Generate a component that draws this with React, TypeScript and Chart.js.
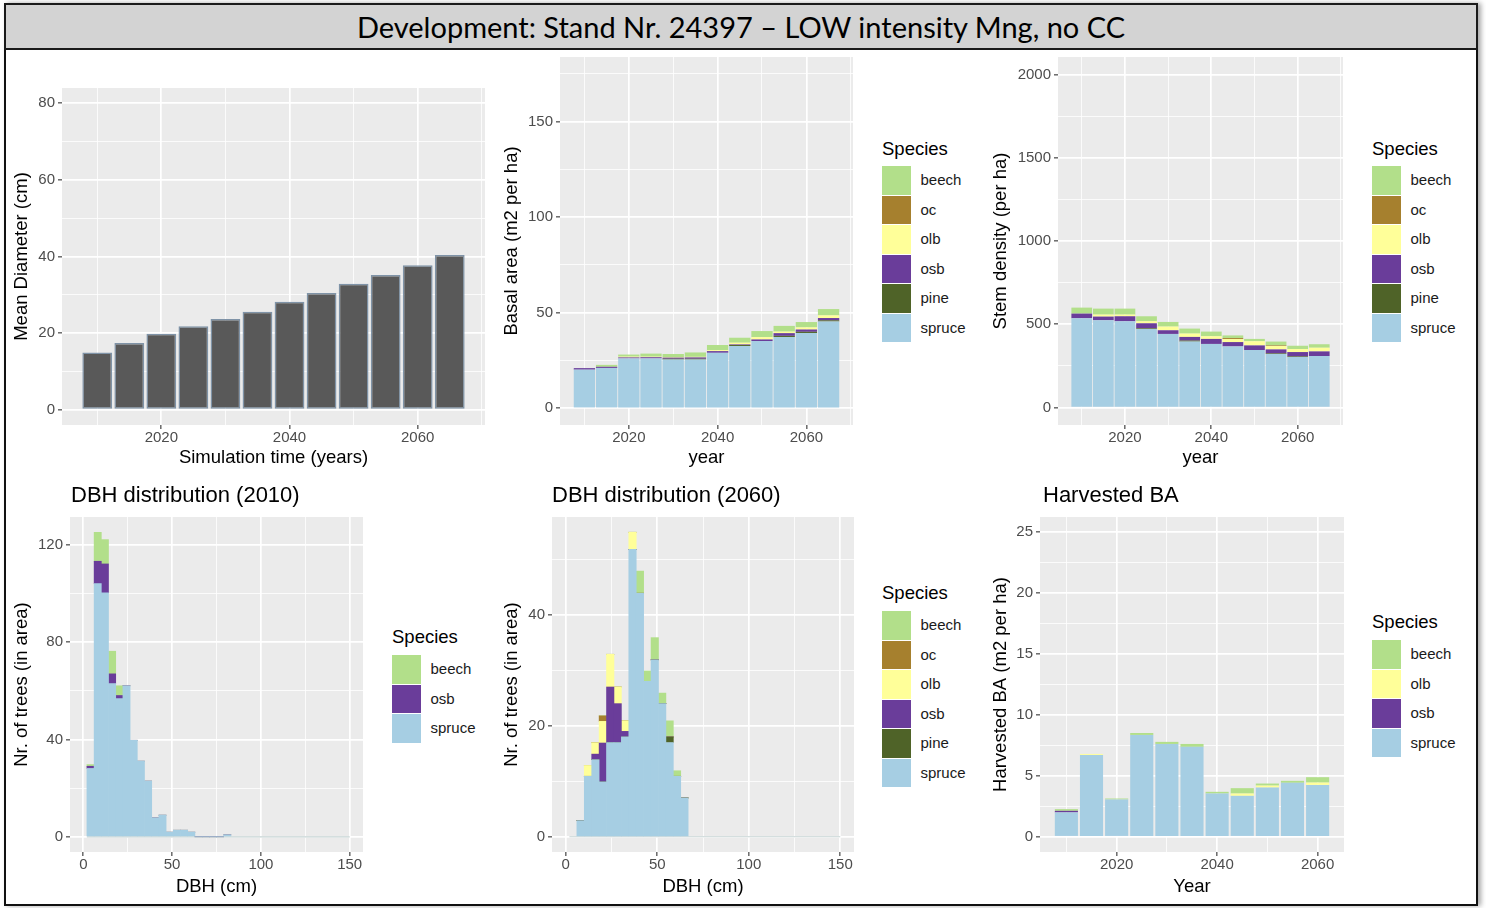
import React, { useEffect, useRef } from "react";
import { Chart, registerables } from "chart.js";

Chart.register(...registerables);

const FONT = "'Liberation Sans', Arial, Helvetica, sans-serif";

// ---------- colours ----------
const COL_BEECH = "#b2df8a";
const COL_OC = "#a6802e";
const COL_OLB = "#ffff99";
const COL_OSB = "#6a3d9a";
const COL_PINE = "#4f6328";
const COL_SPRUCE = "#a6cee3";

// ---------- data ----------
const years = [2010, 2015, 2020, 2025, 2030, 2035, 2040, 2045, 2050, 2055, 2060, 2065];
const meanDiameter = [14.9, 17.4, 19.8, 21.8, 23.7, 25.6, 28.2, 30.5, 32.9, 35.2, 37.7, 40.4];

// basal area (m2 per ha)
const baSpruce = [20.2, 21.1, 26.1, 26.1, 25.5, 25.5, 29.0, 32.6, 35.2, 37.3, 39.4, 45.4];
const baPine = [0, 0, 0, 0, 0.4, 0.4, 0, 0.5, 0, 0.6, 0.6, 0.6];
const baOsb = [0.8, 0.6, 0.5, 0.6, 0.6, 0.7, 0.9, 0.3, 0.8, 1.4, 1.2, 1.2];
const baOlb = [0, 0, 0.4, 0.3, 0.3, 0.3, 0.5, 0.9, 1.2, 0.8, 1.1, 1.4];
const baOc = [0, 0, 0, 0, 0, 0, 0, 0, 0, 0, 0, 0];
const baBeech = [0, 1.0, 1.1, 1.6, 1.6, 2.3, 2.7, 2.6, 3.2, 3.0, 2.8, 3.3];

// stem density (per ha)
const sdSpruce = [536, 524, 518, 472, 442, 396, 382, 367, 345, 321, 303, 309];
const sdPine = [0, 0, 0, 4, 0, 6, 0, 0, 0, 4, 4, 0];
const sdOsb = [28, 22, 30, 30, 22, 22, 30, 26, 28, 24, 26, 28];
const sdOlb = [0, 12, 10, 12, 22, 20, 16, 18, 25, 20, 18, 22];
const sdOc = [0, 0, 0, 0, 0, 0, 0, 6, 0, 4, 0, 0];
const sdBeech = [36, 36, 36, 30, 28, 30, 28, 16, 14, 23, 20, 21];

// DBH distribution 2010 (bin mid points, cm)
const dbh2010Mid = [4.05, 8.11, 12.16, 16.22, 20.27, 24.32, 28.38, 32.43, 36.49, 40.54, 44.59, 48.65, 52.7, 56.76, 60.81, 64.86, 68.92, 72.97, 77.03, 81.08];
const dbh2010Spruce = [28.1, 104.1, 100.3, 63.0, 56.8, 62.1, 39.7, 31.1, 22.9, 7.8, 8.9, 1.9, 2.7, 2.7, 1.9, 0, 0, 0, 0, 0.8];
const dbh2010Osb = [0.9, 9.2, 11.9, 4.0, 1.3, 0, 0, 0, 0, 0, 0, 0, 0, 0, 0, 0, 0, 0, 0, 0];
const dbh2010Beech = [0.7, 11.9, 10.0, 9.3, 4.0, 0, 0, 0, 0, 0, 0, 0, 0, 0, 0, 0, 0, 0, 0, 0];

// DBH distribution 2060
const dbh2060Mid = [8.11, 12.16, 16.22, 20.27, 24.32, 28.38, 32.43, 36.49, 40.54, 44.59, 48.65, 52.7, 56.76, 60.81, 64.86];
const dbh2060Spruce = [2.9, 10.9, 13.9, 9.9, 17.0, 17.0, 18.0, 51.8, 43.9, 28.0, 31.9, 24.0, 17.0, 10.9, 7.0];
const dbh2060Pine = [0, 0, 0, 0, 0, 0, 0, 0, 0, 0, 0, 0, 1.0, 0, 0];
const dbh2060Osb = [0, 0, 1.0, 7.0, 10.0, 7.0, 1.0, 0, 0, 0, 0, 0, 0, 0, 0];
const dbh2060Olb = [0, 1.95, 2.05, 3.9, 5.9, 3.0, 1.9, 3.1, 0, 0, 0, 0, 0, 0, 0];
const dbh2060Oc = [0, 0, 0, 1.0, 0, 0, 0, 0, 0, 0, 0, 0, 0, 0, 0];
const dbh2060Beech = [0, 0, 0, 0, 0, 0, 0, 0, 4.0, 1.9, 4.0, 1.9, 2.9, 1.0, 0];
const dbhZeroLine = [2, 150];

// harvested BA
const harvestYears = [2010, 2015, 2020, 2025, 2030, 2035, 2040, 2045, 2050, 2055, 2060];
const hvSpruce = [2.0, 6.72, 3.06, 8.36, 7.62, 7.38, 3.55, 3.36, 4.04, 4.43, 4.26];
const hvOsb = [0.13, 0, 0, 0, 0, 0, 0, 0, 0, 0, 0];
const hvOlb = [0, 0.08, 0, 0, 0, 0, 0, 0.19, 0.16, 0, 0.19];
const hvBeech = [0.14, 0, 0.08, 0.16, 0.17, 0.24, 0.14, 0.44, 0.17, 0.16, 0.44];

const legendAll = ["beech", "oc", "olb", "osb", "pine", "spruce"];
const legendColors: Record<string, string> = {
  beech: COL_BEECH,
  oc: COL_OC,
  olb: COL_OLB,
  osb: COL_OSB,
  pine: COL_PINE,
  spruce: COL_SPRUCE,
};

// ---------- helpers ----------
const bgPlugin = {
  id: "panelBg",
  beforeDraw(chart: any) {
    const { ctx, chartArea: a } = chart;
    if (!a) return;
    ctx.save();
    ctx.fillStyle = "#EBEBEB";
    ctx.fillRect(a.left, a.top, a.right - a.left, a.bottom - a.top);
    ctx.restore();
  },
};

function axisCfg(
  kind: "x" | "y",
  min: number,
  max: number,
  majors: number[],
  minors: number[],
  title: string,
  size: number
) {
  const all = [...majors, ...minors].sort((a, b) => a - b);
  const isMajor = (v: number) => majors.some((m) => Math.abs(m - v) < 1e-9);
  return {
    type: "linear",
    min,
    max,
    stacked: true,
    offset: false,
    afterBuildTicks: (axis: any) => {
      axis.ticks = all.map((v) => ({ value: v }));
    },
    afterFit: (axis: any) => {
      if (kind === "y") axis.width = size;
      else axis.height = size;
    },
    grid: {
      offset: false,
      color: "#ffffff",
      lineWidth: (c: any) => (c.tick && isMajor(c.tick.value) ? 1.7 : 0.8),
      drawTicks: true,
      tickLength: 4,
      tickWidth: 1.1,
      tickColor: (c: any) => (c.tick && isMajor(c.tick.value) ? "#333333" : "rgba(0,0,0,0)"),
    },
    border: { display: false },
    ticks: {
      autoSkip: false,
      maxRotation: 0,
      minRotation: 0,
      padding: kind === "x" ? 0 : 3,
      color: "#4d4d4d",
      font: { family: FONT, size: 15 },
      callback: (v: any) => (isMajor(Number(v)) ? String(v) : ""),
    },
    title: {
      display: true,
      text: title,
      color: "#000000",
      font: { family: FONT, size: 18.5 },
      padding: 0,
    },
  };
}

type Geom = { l: number; t: number; r: number; b: number; yTitleX: number; xTitleY: number };

function bars(xs: number[], ys: number[], color: string, pct: number, extra: any = {}) {
  return {
    type: "bar",
    data: xs.map((x, i) => ({ x, y: ys[i] })),
    backgroundColor: color,
    borderWidth: 0,
    barPercentage: pct,
    categoryPercentage: 1,
    ...extra,
  };
}

function Panel({
  g,
  datasets,
  xAxis,
  yAxis,
}: {
  g: Geom;
  datasets: any[];
  xAxis: [number, number, number[], number[], string];
  yAxis: [number, number, number[], number[], string];
}) {
  const ref = useRef<HTMLCanvasElement>(null);
  const padTop = 14;
  const padRight = 10;
  const cLeft = Math.round(g.yTitleX - 11);
  const cTop = g.t - padTop;
  const cW = g.r + padRight - cLeft;
  const cBottom = Math.round(g.xTitleY + 11);
  const cH = cBottom - cTop;
  const yW = g.l - cLeft;
  const xH = cBottom - g.b;

  useEffect(() => {
    const chart = new Chart(ref.current as HTMLCanvasElement, {
      type: "bar",
      data: { datasets } as any,
      options: {
        responsive: false,
        animation: false,
        maintainAspectRatio: false,
        layout: { padding: { left: 0, top: padTop, right: padRight, bottom: 0 } },
        plugins: { legend: { display: false }, tooltip: { enabled: false } },
        scales: {
          x: axisCfg("x", xAxis[0], xAxis[1], xAxis[2], xAxis[3], xAxis[4], xH) as any,
          y: axisCfg("y", yAxis[0], yAxis[1], yAxis[2], yAxis[3], yAxis[4], yW) as any,
        },
      } as any,
      plugins: [bgPlugin],
    });
    return () => chart.destroy();
  }, []);

  return (
    <canvas
      ref={ref}
      width={cW}
      height={cH}
      style={{ position: "absolute", left: cLeft, top: cTop, width: cW, height: cH }}
    />
  );
}

function Legend({ x, titleY, keyTop, items }: { x: number; titleY: number; keyTop: number; items: string[] }) {
  return (
    <>
      <div
        style={{
          position: "absolute",
          left: x,
          top: titleY - 11,
          height: 22,
          lineHeight: "22px",
          fontFamily: FONT,
          fontSize: 18.5,
          color: "#000",
          whiteSpace: "nowrap",
        }}
      >
        Species
      </div>
      {items.map((it, i) => (
        <React.Fragment key={it}>
          <div
            style={{
              position: "absolute",
              left: x,
              top: keyTop + i * 29.5,
              width: 28.5,
              height: 28.5,
              background: legendColors[it],
            }}
          />
          <div
            style={{
              position: "absolute",
              left: x + 38.5,
              top: keyTop + i * 29.5 + 14.25 - 10,
              height: 20,
              lineHeight: "20px",
              fontFamily: FONT,
              fontSize: 15,
              color: "#1a1a1a",
              whiteSpace: "nowrap",
            }}
          >
            {it}
          </div>
        </React.Fragment>
      ))}
    </>
  );
}

function PanelTitle({ x, y, text }: { x: number; y: number; text: string }) {
  return (
    <div
      style={{
        position: "absolute",
        left: x,
        top: y - 13,
        height: 26,
        lineHeight: "26px",
        fontFamily: FONT,
        fontSize: 22,
        color: "#000",
        whiteSpace: "nowrap",
      }}
    >
      {text}
    </div>
  );
}

export default function App() {
  const yearMaj = [2020, 2040, 2060];
  const yearMin = [2010, 2030, 2050, 2070];
  const dbhMaj = [0, 50, 100, 150];
  const dbhMin = [25, 75, 125];

  const panel1 = [bars(years, meanDiameter, "#595959", 0.93, { borderColor: "#7f93a7", borderWidth: 1.5, borderSkipped: false })];

  const panel2 = [
    bars(years, baSpruce, COL_SPRUCE, 0.96),
    bars(years, baPine, COL_PINE, 0.96),
    bars(years, baOsb, COL_OSB, 0.96),
    bars(years, baOlb, COL_OLB, 0.96),
    bars(years, baOc, COL_OC, 0.96),
    bars(years, baBeech, COL_BEECH, 0.96),
  ];

  const panel3 = [
    bars(years, sdSpruce, COL_SPRUCE, 0.96),
    bars(years, sdPine, COL_PINE, 0.96),
    bars(years, sdOsb, COL_OSB, 0.96),
    bars(years, sdOlb, COL_OLB, 0.96),
    bars(years, sdOc, COL_OC, 0.96),
    bars(years, sdBeech, COL_BEECH, 0.96),
  ];

  const zeroLine = {
    type: "line",
    data: dbhZeroLine.map((x) => ({ x, y: 0 })),
    borderColor: "#c6d3d3",
    borderWidth: 1.2,
    pointRadius: 0,
    order: 10,
  };

  const panel4 = [
    zeroLine,
    bars(dbh2010Mid, dbh2010Spruce, COL_SPRUCE, 1),
    bars(dbh2010Mid, dbh2010Osb, COL_OSB, 1),
    bars(dbh2010Mid, dbh2010Beech, COL_BEECH, 1),
  ];

  const panel5 = [
    { ...zeroLine },
    bars(dbh2060Mid, dbh2060Spruce, COL_SPRUCE, 1),
    bars(dbh2060Mid, dbh2060Pine, COL_PINE, 1),
    bars(dbh2060Mid, dbh2060Osb, COL_OSB, 1),
    bars(dbh2060Mid, dbh2060Olb, COL_OLB, 1),
    bars(dbh2060Mid, dbh2060Oc, COL_OC, 1),
    bars(dbh2060Mid, dbh2060Beech, COL_BEECH, 1),
  ];

  const panel6 = [
    bars(harvestYears, hvSpruce, COL_SPRUCE, 0.92),
    bars(harvestYears, hvOsb, COL_OSB, 0.92),
    bars(harvestYears, hvOlb, COL_OLB, 0.92),
    bars(harvestYears, hvBeech, COL_BEECH, 0.92),
  ];

  return (
    <div
      style={{
        position: "absolute",
        left: 0,
        top: 0,
        width: 1486,
        height: 908,
        background: "#ffffff",
        overflow: "hidden",
      }}
    >
      <div
        style={{
          position: "absolute",
          left: 4,
          top: 3,
          width: 1474,
          height: 903,
          boxSizing: "border-box",
          border: "2px solid #111",
          boxShadow: "3px 0 5px rgba(0,0,0,0.35)",
        }}
      />
      <div
        style={{
          position: "absolute",
          left: 4,
          top: 3,
          width: 1474,
          height: 47,
          boxSizing: "border-box",
          border: "2px solid #1a1a1a",
          background: "#d3d3d3",
          textAlign: "center",
          lineHeight: "43px",
          fontFamily: "Lato, 'Open Sans', sans-serif",
          fontSize: 29,
          color: "#000",
          whiteSpace: "nowrap",
        }}
      >
        Development: Stand Nr. 24397 – LOW intensity Mng, no CC
      </div>

      <Panel
        g={{ l: 62, t: 88, r: 485, b: 425, yTitleX: 22, xTitleY: 458 }}
        datasets={panel1}
        xAxis={[2004.5, 2070.5, yearMaj, yearMin, "Simulation time (years)"]}
        yAxis={[-4, 84, [0, 20, 40, 60, 80], [10, 30, 50, 70], "Mean Diameter (cm)"]}
      />
      <Panel
        g={{ l: 560, t: 57, r: 853, b: 425, yTitleX: 512, xTitleY: 458 }}
        datasets={panel2}
        xAxis={[2004.5, 2070.5, yearMaj, yearMin, "year"]}
        yAxis={[-8.75, 183.75, [0, 50, 100, 150], [25, 75, 125, 175], "Basal area (m2 per ha)"]}
      />
      <Panel
        g={{ l: 1058, t: 57, r: 1343, b: 425, yTitleX: 1001, xTitleY: 458 }}
        datasets={panel3}
        xAxis={[2004.5, 2070.5, yearMaj, yearMin, "year"]}
        yAxis={[-105, 2105, [0, 500, 1000, 1500, 2000], [250, 750, 1250, 1750], "Stem density (per ha)"]}
      />
      <Panel
        g={{ l: 70, t: 517, r: 363, b: 852, yTitleX: 22, xTitleY: 887 }}
        datasets={panel4}
        xAxis={[-7.5, 157.5, dbhMaj, dbhMin, "DBH (cm)"]}
        yAxis={[-6.26, 131.5, [0, 40, 80, 120], [20, 60, 100], "Nr. of trees (in area)"]}
      />
      <Panel
        g={{ l: 552, t: 517, r: 854, b: 852, yTitleX: 512, xTitleY: 887 }}
        datasets={panel5}
        xAxis={[-7.5, 157.5, dbhMaj, dbhMin, "DBH (cm)"]}
        yAxis={[-2.75, 57.65, [0, 20, 40], [10, 30, 50], "Nr. of trees (in area)"]}
      />
      <Panel
        g={{ l: 1040, t: 517, r: 1344, b: 852, yTitleX: 1001, xTitleY: 887 }}
        datasets={panel6}
        xAxis={[2004.75, 2065.25, yearMaj, [2010, 2030, 2050], "Year"]}
        yAxis={[-1.25, 26.25, [0, 5, 10, 15, 20, 25], [2.5, 7.5, 12.5, 17.5, 22.5], "Harvested BA (m2 per ha)"]}
      />

      <PanelTitle x={71} y={495} text="DBH distribution (2010)" />
      <PanelTitle x={552} y={495} text="DBH distribution (2060)" />
      <PanelTitle x={1043} y={495} text="Harvested BA" />

      <Legend x={882} titleY={149} keyTop={166} items={legendAll} />
      <Legend x={1372} titleY={149} keyTop={166} items={legendAll} />
      <Legend x={392} titleY={637} keyTop={655} items={["beech", "osb", "spruce"]} />
      <Legend x={882} titleY={593} keyTop={611} items={legendAll} />
      <Legend x={1372} titleY={622} keyTop={640} items={["beech", "olb", "osb", "spruce"]} />
    </div>
  );
}
